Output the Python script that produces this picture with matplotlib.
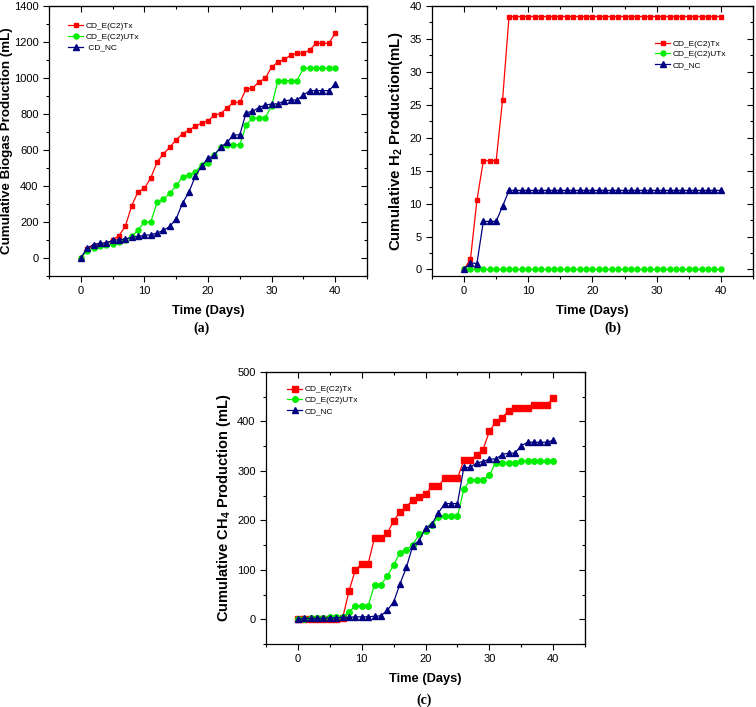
import matplotlib
matplotlib.use("Agg")
import matplotlib.pyplot as plt
from matplotlib.ticker import MultipleLocator

plt.rcParams['font.family'] = 'Liberation Sans'
plt.rcParams['mathtext.fontset'] = 'custom'
plt.rcParams['mathtext.rm'] = 'Liberation Sans'
plt.rcParams['mathtext.bf'] = 'Liberation Sans:bold'

days = list(range(41))

# (a) cumulative biogas (mL)
biogas_tx = [0, 50, 65, 75, 80, 100, 124, 176, 290, 368, 387, 444, 533, 579, 616, 657,
             690, 710, 732, 749, 762, 793, 802, 834, 864, 864, 939, 943, 978, 998, 1060,
             1089, 1104, 1126, 1137, 1137, 1156, 1193, 1193, 1193, 1248]
biogas_utx = [0, 40, 58, 67, 72, 78, 88, 100, 120, 155, 200, 200, 309, 327, 359, 403,
              449, 460, 477, 518, 527, 573, 616, 629, 629, 629, 738, 778, 778, 778, 845,
              985, 985, 985, 985, 1054, 1054, 1054, 1054, 1054, 1054]
biogas_nc = [0, 55, 74, 83, 83, 98, 102, 105, 115, 120, 126, 129, 139, 153, 176, 218,
             305, 366, 453, 512, 553, 571, 616, 642, 684, 684, 808, 814, 836, 849, 856,
             856, 873, 878, 878, 904, 930, 930, 930, 930, 965]

# (b) cumulative H2 (mL)
h2_tx = [0, 1.6, 10.5, 16.5, 16.5, 16.5, 25.8] + [38.4] * 34
h2_utx = [0] * 41
h2_nc = [0, 1.0, 0.9, 7.3, 7.3, 7.3, 9.6] + [12.0] * 34

# (c) cumulative CH4 (mL)
ch4_tx = [0, 0, 0, 0, 0, 1, 1, 2, 57, 100, 112, 112, 165, 165, 174, 199, 217, 228, 241,
          247, 253, 269, 269, 285, 285, 285, 322, 322, 332, 343, 380, 399, 407, 422, 427,
          427, 427, 434, 434, 434, 447]
ch4_utx = [0, 1, 2, 3, 3, 4, 4, 5, 15, 27, 27, 27, 70, 70, 87, 110, 135, 141, 151, 172,
           179, 191, 207, 208, 208, 208, 263, 282, 282, 282, 291, 317, 317, 317, 317, 320,
           320, 320, 320, 320, 320]
ch4_nc = [0, 2, 2, 2, 2, 3, 3, 4, 4, 5, 5, 5, 6, 7, 18, 35, 72, 105, 149, 159, 184, 193,
          215, 234, 234, 234, 307, 307, 316, 319, 324, 324, 333, 336, 336, 351, 358, 358,
          358, 358, 362]

labels = ['CD_E(C2)Tx', 'CD_E(C2)UTx', 'CD_NC']
colors = ['#ff0000', '#00ee00', '#000080']
markers = ['s', 'o', '^']

fig = plt.figure(figsize=(7.56, 7.07), dpi=100)
ax_a = fig.add_axes([0.0648, 0.6096, 0.4206, 0.3819])
ax_b = fig.add_axes([0.5714, 0.6096, 0.4246, 0.3819])
ax_c = fig.add_axes([0.3519, 0.0891, 0.4220, 0.3847])


def draw(ax, series, ms, names, leg_xy, ylim, ymaj, ymin, ylabel, ylab_x, ylab_fs):
    for y, lab, c, m, s in zip(series, names, colors, markers, ms):
        ax.plot(days, y, color=c, marker=m, markersize=s, linewidth=0.9, label=lab)
    ax.set_xlim(-5, 45)
    ax.set_ylim(*ylim)
    ax.xaxis.set_major_locator(MultipleLocator(10))
    ax.xaxis.set_minor_locator(MultipleLocator(5))
    ax.yaxis.set_major_locator(MultipleLocator(ymaj))
    ax.yaxis.set_minor_locator(MultipleLocator(ymin))
    ax.tick_params(which='both', direction='out', labelsize=8, width=0.8)
    ax.tick_params(which='major', length=4)
    ax.tick_params(which='minor', length=2.5)
    for sp in ax.spines.values():
        sp.set_linewidth(0.9)
    # inward ticks on top and right, like the original
    top = ax.secondary_xaxis('top')
    top.xaxis.set_major_locator(MultipleLocator(10))
    top.xaxis.set_minor_locator(MultipleLocator(5))
    top.tick_params(which='both', direction='in', labeltop=False, width=0.8)
    top.tick_params(which='major', length=4)
    top.tick_params(which='minor', length=2.5)
    right = ax.secondary_yaxis('right')
    right.yaxis.set_major_locator(MultipleLocator(ymaj))
    right.yaxis.set_minor_locator(MultipleLocator(ymin))
    right.tick_params(which='both', direction='in', labelright=False, width=0.8)
    right.tick_params(which='major', length=4)
    right.tick_params(which='minor', length=2.5)
    ax.set_xlabel('Time (Days)', fontsize=9.3, fontweight='bold')
    ax.set_ylabel(ylabel, fontsize=ylab_fs, fontweight='bold')
    ax.xaxis.set_label_coords(0.5, -0.107)
    ax.yaxis.set_label_coords(ylab_x, 0.5)
    ax.legend(loc='upper left', bbox_to_anchor=leg_xy, frameon=False, fontsize=6,
              handlelength=1.8, handletextpad=0.3, labelspacing=0.35,
              borderpad=0, borderaxespad=0)


draw(ax_a, [biogas_tx, biogas_utx, biogas_nc], [3.3, 3.6, 3.8],
     ['CD_E(C2)Tx', 'CD_E(C2)UTx', ' CD_NC'], (0.06, 0.94),
     (-100, 1400), 200, 100, 'Cumulative Biogas Production (mL)', -0.112, 9.6)
draw(ax_b, [h2_tx, h2_utx, h2_nc], [3.3, 3.6, 3.8], labels, (0.695, 0.875),
     (-1, 40), 5, 2.5, r'Cumulative H$_\mathbf{2}$ Production(mL)', -0.084, 10.8)
draw(ax_c, [ch4_tx, ch4_utx, ch4_nc], [3.8, 4.0, 4.2], labels, (0.066, 0.95),
     (-50, 500), 100, 50, r'Cumulative CH$_\mathbf{4}$ Production (mL)', -0.103, 10.5)

cap = dict(fontsize=10, fontweight='bold', family='Liberation Serif', ha='center', va='center')
fig.text(202 / 756, 1 - 328 / 707, '(a)', **cap)
fig.text(613 / 756, 1 - 328 / 707, '(b)', **cap)
fig.text(424 / 756, 1 - 700 / 707, '(c)', **cap)

plt.savefig('out.png', dpi=100)
plt.close('all')
